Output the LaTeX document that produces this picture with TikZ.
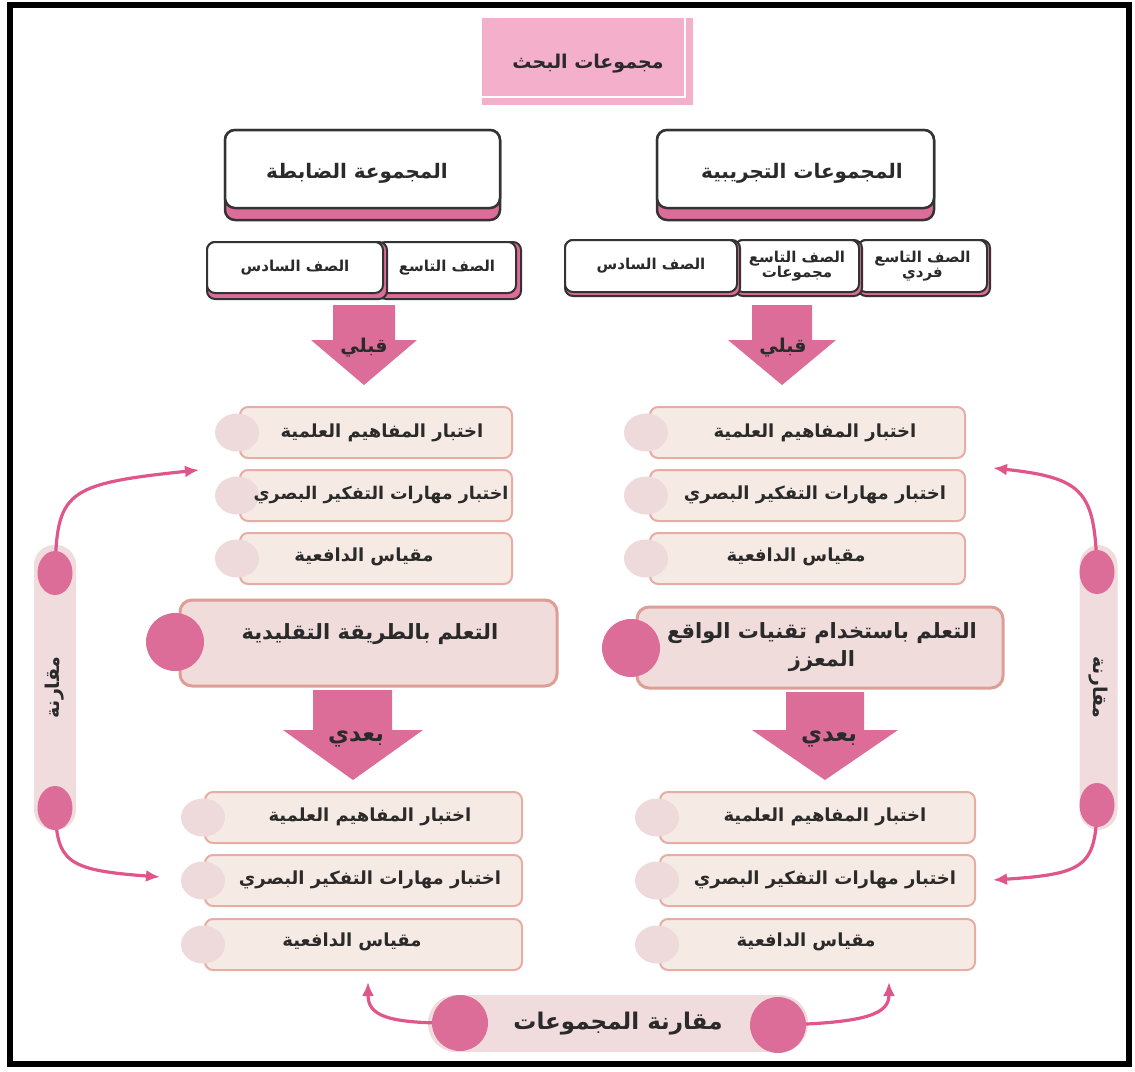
\documentclass[tikz,border=0pt]{standalone}
\usepackage{fontspec}
\usetikzlibrary{arrows.meta,shapes.geometric}
\TeXXeTstate=1
\newfontfamily\arabicfont[Script=Arabic]{DejaVu Sans}
\newcommand\artxt[1]{{\arabicfont\bfseries\beginR #1\endR}}
\definecolor{pinkA}{HTML}{DC6C98}
\definecolor{pinkLine}{HTML}{E0558A}
\definecolor{itemFill}{HTML}{F6EAE4}
\definecolor{itemDraw}{HTML}{E5ADA3}
\definecolor{smallCirc}{HTML}{EED9DB}
\definecolor{learnFill}{HTML}{F1DCDC}
\definecolor{learnDraw}{HTML}{DE9E95}
\definecolor{barFill}{HTML}{F1DCDD}
\definecolor{titleFill}{HTML}{F4B0CA}
\definecolor{darkline}{HTML}{333333}
\definecolor{txt}{HTML}{2A2A2A}
\begin{document}
\begin{tikzpicture}[x=1pt,y=-1pt, every node/.style={text=txt},
  title/.style={fill=titleFill, minimum width=211, minimum height=87, inner sep=0},
  titletext/.style={inner sep=0, font=\fontsize{19}{22}\selectfont},
  hdrback/.style={draw=darkline, fill=pinkA, line width=2.5, rounded corners=10},
  hdr/.style={draw=darkline, fill=white, line width=2.5, rounded corners=10, inner sep=0},
  hdrtext/.style={inner sep=0, font=\fontsize{20}{23}\selectfont},
  tabback/.style={draw=darkline, fill=pinkA, line width=2, rounded corners=8},
  tabbox/.style={draw=darkline, fill=white, line width=2, rounded corners=8, inner sep=0, align=center, font=\fontsize{15}{17}\selectfont},
  item/.style={draw=itemDraw, fill=itemFill, line width=2, rounded corners=8, minimum height=51, inner sep=0},
  itemtext/.style={inner sep=0, font=\fontsize{18}{21}\selectfont},
  smallc/.style={ellipse, fill=smallCirc, minimum width=44, minimum height=38, inner sep=0},
  learn/.style={draw=learnDraw, fill=learnFill, line width=3, rounded corners=12, inner sep=0},
  learntext/.style={inner sep=0, align=center, font=\fontsize{21}{28}\selectfont},
  bigc/.style={circle, fill=pinkA, minimum size=58, inner sep=0},
  bar/.style={fill=barFill, rounded corners=20, inner sep=0, font=\fontsize{19}{22}\selectfont},
  sidec/.style={ellipse, fill=pinkA, minimum width=35, minimum height=44, inner sep=0},
  arrlabel/.style={font=\fontsize{19}{22}\selectfont, inner sep=0},
  carrow/.style={draw=pinkLine, line width=3.2, -{Latex[length=14pt,width=12pt]}}
]
\useasboundingbox (0,0) rectangle (1135,1071);
% outer frame
\draw[line width=6] (10,5) rectangle (1129,1064);

% title
\node[title] (titlebox) at (587.5,61.5) {};
\draw[white, line width=2] (473,13) rectangle (685,97);
\node[titletext] (title) at (588,64) {\artxt{مجموعات البحث}};

% headers
\draw[hdrback] (225,130) rectangle (500,220);
\node[hdr, minimum width=275, minimum height=78] (hLbox) at (362.5,169) {};
\node[hdrtext] (hL) at (357,173) {\artxt{المجموعة الضابطة}};
\draw[hdrback] (657,130) rectangle (934,220);
\node[hdr, minimum width=277, minimum height=78] (hRbox) at (795.5,169) {};
\node[hdrtext] (hR) at (802,173) {\artxt{المجموعات التجريبية}};

% tabs left
\draw[tabback] (378,242) rectangle (521,299);
\node[tabbox, minimum width=138, minimum height=51] (tL2) at (447,267.5) {\artxt{الصف التاسع}};
\draw[tabback] (207,242) rectangle (387,299);
\node[tabbox, minimum width=176, minimum height=51] (tL1) at (295,267.5) {\artxt{الصف السادس}};
% tabs right
\draw[tabback] (858,240) rectangle (990,296);
\node[tabbox, minimum width=129, minimum height=52] (tR3) at (922.5,266) {\artxt{الصف التاسع}\\[-2pt]\artxt{فردي}};
\draw[tabback] (735,240) rectangle (862,296);
\node[tabbox, minimum width=124, minimum height=52] (tR2) at (797,266) {\artxt{الصف التاسع}\\[-2pt]\artxt{مجموعات}};
\draw[tabback] (565,240) rectangle (740,296);
\node[tabbox, minimum width=172, minimum height=52] (tR1) at (651,266) {\artxt{الصف السادس}};

% down arrows (before)
\fill[pinkA] (333,305) -- (395,305) -- (395,340) -- (417,340) -- (364,385) -- (311,340) -- (333,340) -- cycle;
\node[arrlabel] (qL) at (364,348) {\artxt{قبلي}};
\fill[pinkA] (752,305) -- (812,305) -- (812,340) -- (836,340) -- (782,385) -- (728,340) -- (752,340) -- cycle;
\node[arrlabel] (qR) at (783,348) {\artxt{قبلي}};

% pre-test items left
\node[item, minimum width=272] (pL1) at (376,432.5) {};
\node[item, minimum width=272] (pL2) at (376,495.5) {};
\node[item, minimum width=272] (pL3) at (376,558.5) {};
\node[smallc] (cpL1) at (237,432.5) {};
\node[smallc] (cpL2) at (237,495.5) {};
\node[smallc] (cpL3) at (237,558.5) {};
\node[itemtext] (pL1t) at (382,432.5) {\artxt{اختبار المفاهيم العلمية}};
\node[itemtext, font=\fontsize{17.5}{21}\selectfont] (pL2t) at (381,494.5) {\artxt{اختبار مهارات التفكير البصري}};
\node[itemtext] (pL3t) at (364,556.5) {\artxt{مقياس الدافعية}};
% pre-test items right
\node[item, minimum width=315] (pR1) at (807.5,432.5) {};
\node[item, minimum width=315] (pR2) at (807.5,495.5) {};
\node[item, minimum width=315] (pR3) at (807.5,558.5) {};
\node[smallc] (cpR1) at (646,432.5) {};
\node[smallc] (cpR2) at (646,495.5) {};
\node[smallc] (cpR3) at (646,558.5) {};
\node[itemtext] (pR1t) at (815,432.5) {\artxt{اختبار المفاهيم العلمية}};
\node[itemtext] (pR2t) at (815,494.5) {\artxt{اختبار مهارات التفكير البصري}};
\node[itemtext] (pR3t) at (796,556.5) {\artxt{مقياس الدافعية}};

% learning boxes
\node[learn, minimum width=377, minimum height=86] (lLbox) at (368.5,643) {};
\node[learntext] (lL) at (370,634) {\artxt{التعلم بالطريقة التقليدية}};
\node[bigc] (lcL) at (175,642) {};
\node[learn, minimum width=366, minimum height=81] (lRbox) at (820,647.5) {};
\node[learntext] (lR) at (822,647.5) {\artxt{التعلم باستخدام تقنيات الواقع}\\\artxt{المعزز}};
\node[bigc] (lcR) at (631,648) {};

% down arrows (after)
\fill[pinkA] (313,690) -- (392,690) -- (392,730) -- (423,730) -- (353,780) -- (283,730) -- (313,730) -- cycle;
\node[arrlabel, font=\fontsize{23}{26}\selectfont] (bL) at (356,739) {\artxt{بعدي}};
\fill[pinkA] (786,692) -- (864,692) -- (864,730) -- (898,730) -- (825,780) -- (752,730) -- (786,730) -- cycle;
\node[arrlabel, font=\fontsize{23}{26}\selectfont] (bR) at (829,739) {\artxt{بعدي}};

% post-test items left
\node[item, minimum width=317] (aL1) at (363.5,817.5) {};
\node[item, minimum width=317] (aL2) at (363.5,880.5) {};
\node[item, minimum width=317] (aL3) at (363.5,944.5) {};
\node[smallc] (caL1) at (203,817.5) {};
\node[smallc] (caL2) at (203,880.5) {};
\node[smallc] (caL3) at (203,944.5) {};
\node[itemtext] (aL1t) at (370,816.5) {\artxt{اختبار المفاهيم العلمية}};
\node[itemtext] (aL2t) at (370,879.5) {\artxt{اختبار مهارات التفكير البصري}};
\node[itemtext] (aL3t) at (352,941.5) {\artxt{مقياس الدافعية}};
% post-test items right
\node[item, minimum width=315] (aR1) at (817.5,817.5) {};
\node[item, minimum width=315] (aR2) at (817.5,880.5) {};
\node[item, minimum width=315] (aR3) at (817.5,944.5) {};
\node[smallc] (caR1) at (657,817.5) {};
\node[smallc] (caR2) at (657,880.5) {};
\node[smallc] (caR3) at (657,944.5) {};
\node[itemtext] (aR1t) at (825,816.5) {\artxt{اختبار المفاهيم العلمية}};
\node[itemtext] (aR2t) at (825,879.5) {\artxt{اختبار مهارات التفكير البصري}};
\node[itemtext] (aR3t) at (806,941.5) {\artxt{مقياس الدافعية}};

% side comparison bars
\node[bar, rotate=90, minimum width=285, minimum height=42] (barL) at (55,687.5) {\artxt{مقارنة}};
\node[bar, rotate=-90, minimum width=285, minimum height=38] (barR) at (1098.5,687.5) {\artxt{مقارنة}};
\coordinate (tipL1) at (199,470);
\coordinate (tipL2) at (160,877);
\coordinate (tipR1) at (993,468);
\coordinate (tipR2) at (993,880);
\draw[carrow] (55,573) .. controls (57,492) and (64,484) .. (tipL1);
\draw[carrow] (55,808) .. controls (57,862) and (66,870) .. (tipL2);
\draw[carrow] (1097,572) .. controls (1095,492) and (1085,478) .. (tipR1);
\draw[carrow] (1097,805) .. controls (1096,866) and (1086,874) .. (tipR2);
\node[sidec] (sL1) at (55,573) {};
\node[sidec] (sL2) at (55,808) {};
\node[sidec] (sR1) at (1097,572) {};
\node[sidec] (sR2) at (1097,805) {};

% bottom comparison
\node[bar, rounded corners=28, minimum width=380, minimum height=57, font=\fontsize{23}{26}\selectfont] (cmp) at (618,1023.5) {\artxt{مقارنة المجموعات}};
\coordinate (tipB1) at (368,982);
\coordinate (tipB2) at (889,982);
\draw[carrow] (460,1023) .. controls (385,1024) and (368,1015) .. (tipB1);
\draw[carrow] (778,1025) .. controls (870,1023) and (889,1013) .. (tipB2);
\node[bigc, minimum size=56] (cb1) at (460,1023) {};
\node[bigc, minimum size=56] (cb2) at (778,1025) {};
\end{tikzpicture}
\end{document}
